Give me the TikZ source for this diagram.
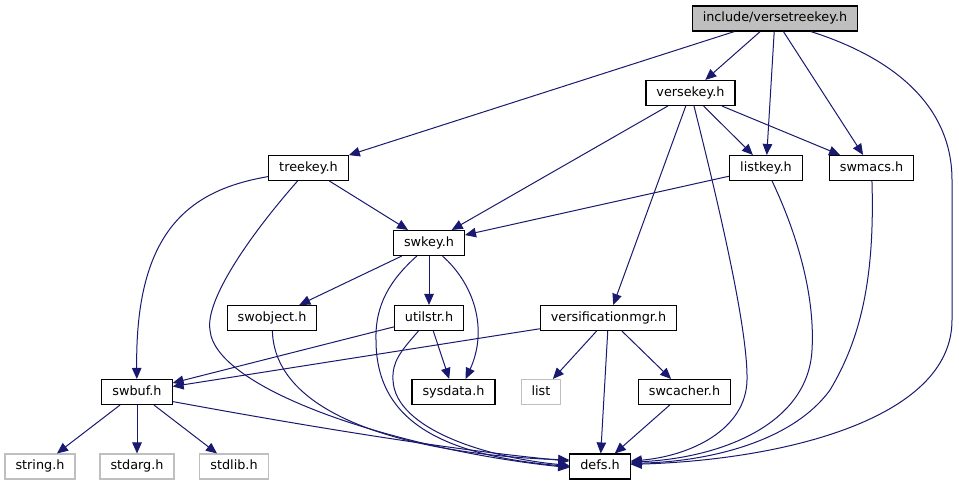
\documentclass[tikz,border=0pt]{standalone}
\usepackage{fontspec}
\setmainfont{DejaVu Sans}
\usetikzlibrary{arrows.meta}
\definecolor{incblue}{HTML}{191970}
\definecolor{boxgray}{HTML}{BFBFBF}

\begin{document}
\begin{tikzpicture}[
  x=1pt, y=-1pt,
  filenode/.style={%
    rectangle,%
    draw=black,
    line width=1.1pt,
    inner xsep=10.5pt,
    inner ysep=0pt,
    minimum height=25pt,
    text height=9.5pt,
    text depth=2.6pt,
    font=\fontsize{12.8}{15}\selectfont%
  },
  extnode/.style={%
    filenode,%
    draw=boxgray%
  },
  mainnode/.style={%
    filenode,%
    fill=boxgray%
  },
  incarrow/.style={%
    draw=incblue,%
    line width=1pt,%
    -{Triangle[length=11pt,width=9.5pt]}%
  }
]

  \fill[white] (0,0) rectangle (959,485);
  \useasboundingbox (0,0) rectangle (959,485);

  \node [mainnode] (top)      at (775.0,18.5)  {include/versetreekey.h};
  \node [filenode] (versekey) at (690.5,93.0)  {versekey.h};
  \node [filenode] (treekey)  at (308.5,168.0) {treekey.h};
  \node [filenode] (listkey)  at (766.0,168.0) {listkey.h};
  \node [filenode] (swmacs)   at (871.5,168.0) {swmacs.h};
  \node [filenode] (swkey)    at (429.0,243.0) {swkey.h};
  \node [filenode] (swobject) at (272.0,318.0) {swobject.h};
  \node [filenode] (utilstr)  at (429.0,318.0) {utilstr.h};
  \node [filenode] (verif)    at (608.5,318.0) {versificationmgr.h};
  \node [filenode] (swbuf)    at (137.0,392.0) {swbuf.h};
  \node [filenode] (sysdata)  at (453.5,392.0) {sysdata.h};
  \node [extnode]  (list)     at (541.0,392.0) {list};
  \node [filenode] (swcacher) at (684.5,392.0) {swcacher.h};
  \node [extnode]  (stringh)  at (40.0,466.5)  {string.h};
  \node [extnode]  (stdarg)   at (137.0,466.5) {stdarg.h};
  \node [extnode]  (stdlib)   at (234.0,466.5) {stdlib.h};
  \node [filenode] (defs)     at (600.0,466.5) {defs.h};

  % include/versetreekey.h
  \draw[incarrow] (top) -- (treekey);
  \draw[incarrow] (top) -- (versekey);
  \draw[incarrow] (top) -- (listkey);
  \draw[incarrow] (top) -- (swmacs);
  \draw[incarrow] (top.-20) .. controls (900,60) and (952,110) .. (952,180)
    -- (952,320) .. controls (952,420) and (780,460) .. (defs.4);

  % versekey.h
  \draw[incarrow] (versekey) -- (swkey);
  \draw[incarrow] (versekey) -- (verif);
  \draw[incarrow] (versekey.-75) .. controls (720,210) and (748,330) .. (747,380)
    .. controls (746,430) and (690,456) .. (defs.10);
  \draw[incarrow] (versekey) -- (listkey);
  \draw[incarrow] (versekey) -- (swmacs);

  % treekey.h
  \draw[incarrow] (treekey.192) .. controls (190,190) and (135,230) .. (swbuf);
  \draw[incarrow] (treekey.-130) .. controls (250,235) and (205,300) .. (210,330)
    .. controls (215,390) and (400,450) .. (defs.182);
  \draw[incarrow] (treekey) -- (swkey);

  % listkey.h, swmacs.h
  \draw[incarrow] (listkey) -- (swkey);
  \draw[incarrow] (listkey.-65) .. controls (800,240) and (815,300) .. (812,350)
    .. controls (808,425) and (720,458) .. (defs.8);
  \draw[incarrow] (swmacs.-88) .. controls (875,280) and (860,340) .. (830,390)
    .. controls (790,445) and (700,462) .. (defs.6);

  % swkey.h
  \draw[incarrow] (swkey) -- (swobject);
  \draw[incarrow] (swkey) -- (utilstr);
  \draw[incarrow] (swkey.-44) .. controls (475,285) and (488,330) .. (sysdata.47);
  \draw[incarrow] (swkey.-133) .. controls (390,280) and (375,305) .. (376,340)
    .. controls (376,420) and (440,455) .. (defs.180);

  % swobject.h, utilstr.h
  \draw[incarrow] (swobject) .. controls (275,420) and (420,455) .. (defs.168);
  \draw[incarrow] (utilstr) -- (swbuf);
  \draw[incarrow] (utilstr) -- (sysdata);
  \draw[incarrow] (utilstr.-129) .. controls (400,352) and (392,362) .. (393,380)
    .. controls (395,430) and (490,458) .. (defs.178);

  % versificationmgr.h
  \draw[incarrow] (verif) -- (swbuf);
  \draw[incarrow] (verif) -- (list);
  \draw[incarrow] (verif) -- (defs);
  \draw[incarrow] (verif) -- (swcacher);

  % swbuf.h, swcacher.h
  \draw[incarrow] (swbuf) -- (stringh);
  \draw[incarrow] (swbuf) -- (stdarg);
  \draw[incarrow] (swbuf) -- (stdlib);
  \draw[incarrow] (swbuf.-15) .. controls (300,425) and (450,450) .. (defs.170);
  \draw[incarrow] (swcacher) -- (defs);

\end{tikzpicture}
\end{document}
